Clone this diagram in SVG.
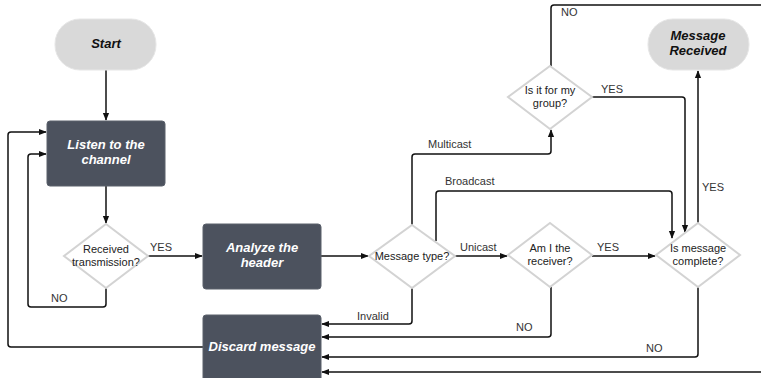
<svg xmlns="http://www.w3.org/2000/svg" width="761" height="378" viewBox="0 0 761 378">
<style>
.term{fill:#d9d9d9;stroke:#e6e6e6;stroke-width:1}
.proc{fill:#4c525e;stroke:#5a606b;stroke-width:1}
.dec{fill:#ffffff;stroke:#d3d3d3;stroke-width:2}
.nt{font-family:"Liberation Sans",Arial,sans-serif;font-size:13px;font-weight:bold;font-style:italic;text-anchor:middle}
.nt.w{fill:#ffffff}
.nt.k{fill:#111111}
.dt{font-family:"Liberation Sans",Arial,sans-serif;font-size:11px;fill:#222222;text-anchor:middle}
.lb{font-family:"Liberation Sans",Arial,sans-serif;font-size:11px;fill:#333333}
.c{fill:none;stroke:#111111;stroke-width:1.5;stroke-linejoin:round}
</style>
<defs>
<marker id="ah" viewBox="0 0 10 10" refX="9" refY="5" markerWidth="8" markerHeight="8" markerUnits="userSpaceOnUse" orient="auto">
<path d="M0,1 L10,5 L0,9 Z" fill="#111111"/>
</marker>
</defs>
<rect width="761" height="378" fill="#ffffff"/>
<g id="connectors">
<path class="c" d="M106,70 V120" marker-end="url(#ah)"/>
<path class="c" d="M106,186 V223" marker-end="url(#ah)"/>
<path class="c" d="M148,256 H202" marker-end="url(#ah)"/>
<path class="c" d="M106,288 V304 Q106,307 103,307 H31 Q28,307 28,304 V157 Q28,154 31,154 H46" marker-end="url(#ah)"/>
<path class="c" d="M203,347 H11 Q8,347 8,344 V135 Q8,132 11,132 H46" marker-end="url(#ah)"/>
<path class="c" d="M321,256 H368" marker-end="url(#ah)"/>
<path class="c" d="M412,225 V157 Q412,154 415,154 H548 Q551,154 551,151 V130" marker-end="url(#ah)"/>
<path class="c" d="M436,241 V194 Q436,191 439,191 H669 Q672,191 672,194 V238" marker-end="url(#ah)"/>
<path class="c" d="M455,256 H507" marker-end="url(#ah)"/>
<path class="c" d="M592,256 H655" marker-end="url(#ah)"/>
<path class="c" d="M592,97 H682 Q685,97 685,100 V232" marker-end="url(#ah)"/>
<path class="c" d="M698,223 V71" marker-end="url(#ah)"/>
<path class="c" d="M551,66 V8 Q551,5 554,5 H761"/>
<path class="c" d="M412,288 V321 Q412,324 409,324 H322" marker-end="url(#ah)"/>
<path class="c" d="M551,287 V334 Q551,337 548,337 H322" marker-end="url(#ah)"/>
<path class="c" d="M698,287 V354 Q698,357 695,357 H322" marker-end="url(#ah)"/>
<path class="c" d="M761,372 H322" marker-end="url(#ah)"/>
<text class="lb" x="150" y="251">YES</text>
<text class="lb" x="51" y="302">NO</text>
<text class="lb" x="428" y="148">Multicast</text>
<text class="lb" x="445" y="185">Broadcast</text>
<text class="lb" x="460" y="251">Unicast</text>
<text class="lb" x="597" y="251">YES</text>
<text class="lb" x="601" y="93">YES</text>
<text class="lb" x="561" y="16">NO</text>
<text class="lb" x="702" y="191">YES</text>
<text class="lb" x="357" y="320">Invalid</text>
<text class="lb" x="516" y="331">NO</text>
<text class="lb" x="646" y="352">NO</text>
</g>
<g id="start">
<rect class="term" x="55" y="19" width="101" height="51" rx="25" ry="25"/>
<text class="nt k" x="106" y="48">Start</text>
</g>
<g id="listen">
<rect class="proc" x="47" y="121" width="118" height="65" rx="3"/>
<text class="nt w" x="106" y="149">Listen to the</text>
<text class="nt w" x="106" y="164">channel</text>
</g>
<g id="received">
<polygon class="dec" points="106,224 148,256 106,288 64,256"/>
<text class="dt" x="106" y="253">Received</text>
<text class="dt" x="106" y="266">transmission?</text>
</g>
<g id="analyze">
<rect class="proc" x="203" y="224" width="118" height="65" rx="3"/>
<text class="nt w" x="262" y="252">Analyze the</text>
<text class="nt w" x="262" y="267">header</text>
</g>
<g id="discard">
<rect class="proc" x="203" y="315" width="118" height="70" rx="3"/>
<text class="nt w" x="262" y="351">Discard message</text>
</g>
<g id="msgtype">
<polygon class="dec" points="412,225 455,256 412,288 369,256"/>
<text class="dt" x="412" y="260">Message type?</text>
</g>
<g id="receiver">
<polygon class="dec" points="550,223 592,255 550,287 508,255"/>
<text class="dt" x="550" y="252">Am I the</text>
<text class="dt" x="550" y="265">receiver?</text>
</g>
<g id="complete">
<polygon class="dec" points="698,223 740,255 698,287 656,255"/>
<text class="dt" x="698" y="252">Is message</text>
<text class="dt" x="698" y="265">complete?</text>
</g>
<g id="group">
<polygon class="dec" points="550,66 592,97 550,129 508,97"/>
<text class="dt" x="550" y="94">Is it for my</text>
<text class="dt" x="550" y="107">group?</text>
</g>
<g id="msgreceived">
<rect class="term" x="648" y="19" width="101" height="51" rx="25" ry="25"/>
<text class="nt k" x="698" y="40">Message</text>
<text class="nt k" x="698" y="55">Received</text>
</g>
</svg>
